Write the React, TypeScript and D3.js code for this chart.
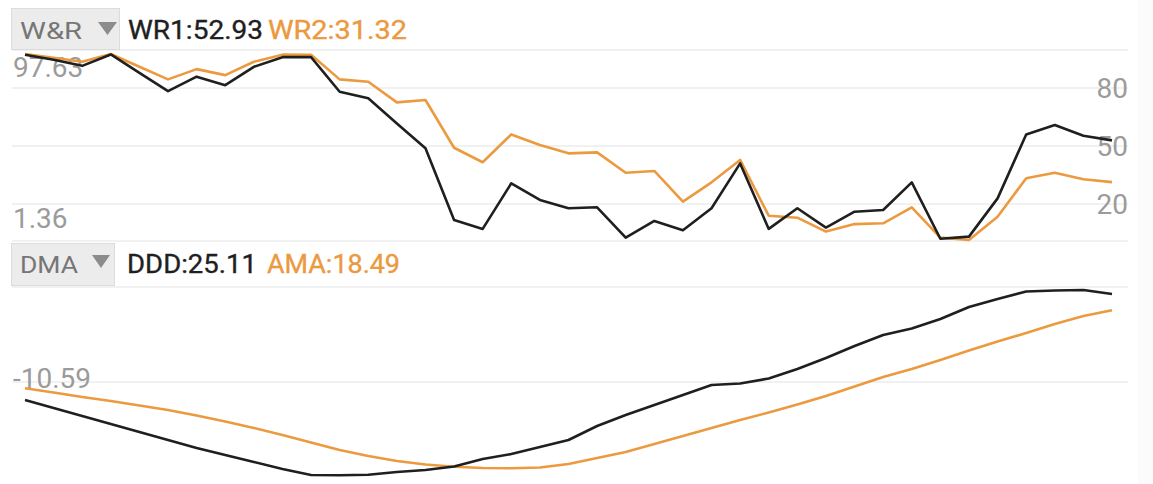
import React from 'react';
import * as d3 from 'd3';

// ---- data ----
const WR1 = [97.2, 94.7, 91.5, 97.4, 87.9, 78.4, 85.9, 81.5, 91.0, 96.0, 96.0, 78.1, 74.7, 61.7, 48.8, 11.7, 7.1, 30.7, 22.1, 17.8, 18.3, 2.6, 11.2, 6.4, 17.8, 41.0, 7.1, 17.8, 7.8, 16.0, 16.9, 31.2, 2.0, 3.1, 22.9, 56.0, 60.9, 55.3, 52.93];
const WR2 = [97.6, 95.7, 93.6, 97.63, 91.0, 84.5, 89.8, 86.7, 93.6, 97.3, 97.2, 84.5, 83.3, 72.6, 73.8, 49.1, 41.6, 56.0, 50.5, 46.2, 46.7, 36.2, 37.1, 21.2, 31.2, 42.8, 13.9, 12.9, 5.7, 9.6, 10.0, 18.3, 2.6, 1.36, 13.4, 33.3, 36.2, 32.8, 31.32];
const DDD = [-17.89, -21.14, -24.38, -27.63, -30.87, -34.12, -37.36, -40.2, -43.04, -45.88, -48.32, -48.4, -48.2, -47.1, -46.29, -44.87, -41.83, -39.8, -36.96, -34.12, -28.44, -23.98, -19.92, -15.86, -11.81, -11.2, -9.17, -5.32, -0.85, 4.01, 8.48, 11.11, 14.97, 19.84, 23.08, 26.12, 26.53, 26.73, 25.11];
const AMA = [-13.15, -14.85, -16.68, -18.3, -20.12, -21.95, -24.18, -26.61, -29.25, -32.09, -35.13, -38.18, -40.61, -42.64, -44.06, -44.95, -45.48, -45.6, -45.28, -43.86, -41.42, -38.99, -35.74, -32.5, -29.25, -26.01, -22.96, -19.72, -16.27, -12.42, -8.56, -5.32, -1.67, 2.19, 5.84, 9.29, 12.94, 16.18, 18.49];
const WR_TICKS = [80, 50, 20];
const WR_MAX_LABEL = '97.63';
const WR_MIN_LABEL = '1.36';
const DMA_LABEL_VALUE = -10.59;

const BLACK = '#1f1f1f';
const ORANGE = '#eb9a3f';
const GRAY = '#9b9b9b';
const GRID = '#f1f1f1';
const FONT = "Roboto, 'Noto Sans', sans-serif";

export default function App() {
  const n = WR1.length;
  const x = d3.scaleLinear().domain([0, n - 1]).range([25, 1112]);
  const wrMin = d3.min([...WR1, ...WR2]) as number;
  const wrMax = d3.max([...WR1, ...WR2]) as number;
  const yTop = d3.scaleLinear().domain([wrMin, wrMax]).range([240, 54]);
  const yBot = d3.scaleLinear().domain([DMA_LABEL_VALUE, DDD[n - 1]]).range([382, 294]);

  const lineTop = d3.line<number>().x((_, i) => x(i)).y((d) => yTop(d));
  const lineBot = d3.line<number>().x((_, i) => x(i)).y((d) => yBot(d));

  const fmt = (v: number) => v.toFixed(2);

  return (
    <svg
      width={1153}
      height={484}
      style={{ position: 'absolute', left: 0, top: 0, display: 'block', background: '#fff' }}
      fontFamily={FONT}
    >
      {/* right edge shade */}
      <rect x={1138} y={0} width={15} height={484} fill="#fbfbfb" />
      {/* top panel grid */}
      {[50, 241].map((y) => (
        <line key={'b' + y} x1={12} x2={1128} y1={y} y2={y} stroke={GRID} strokeWidth={2} />
      ))}
      {WR_TICKS.map((t) => (
        <line key={'t' + t} x1={12} x2={1128} y1={yTop(t)} y2={yTop(t)} stroke={GRID} strokeWidth={2} />
      ))}
      {/* bottom panel grid */}
      <line x1={12} x2={1128} y1={287} y2={287} stroke={GRID} strokeWidth={2} />
      <line x1={12} x2={1128} y1={yBot(DMA_LABEL_VALUE)} y2={yBot(DMA_LABEL_VALUE)} stroke={GRID} strokeWidth={2} />

      {/* axis labels */}
      <text x={13} y={77} fontSize={28} fill={GRAY}>{WR_MAX_LABEL}</text>
      <text x={13} y={228} fontSize={28} fill={GRAY}>{WR_MIN_LABEL}</text>
      {WR_TICKS.map((t) => (
        <text key={'l' + t} x={1128} y={yTop(t) + 10} fontSize={28} fill={GRAY} textAnchor="end">{t}</text>
      ))}
      <text x={13} y={388} fontSize={28} fill={GRAY}>{fmt(DMA_LABEL_VALUE)}</text>

      {/* W&R header */}
      <rect x={11.5} y={8.5} width={108} height={41} fill="#ececec" stroke="#dcdcdc" />
      <text x={20} y={39} fontSize={23} fill="#767676" textLength={62} lengthAdjust="spacingAndGlyphs">W&amp;R</text>
      <path d="M98,22 L117,22 L107.5,35 Z" fill="#8c8c8c" />
      <text x={128} y={39} fontSize={25} fill={BLACK} textLength={135} lengthAdjust="spacingAndGlyphs" stroke={BLACK} strokeWidth={0.35}>{'WR1:' + fmt(WR1[n - 1])}</text>
      <text x={268} y={39} fontSize={25} fill={ORANGE} textLength={139} lengthAdjust="spacingAndGlyphs" stroke={ORANGE} strokeWidth={0.35}>{'WR2:' + fmt(WR2[n - 1])}</text>

      {/* DMA header */}
      <rect x={11.5} y={243.5} width={103} height={42} fill="#ececec" stroke="#dcdcdc" />
      <text x={20} y={273} fontSize={23} fill="#767676" textLength={58} lengthAdjust="spacingAndGlyphs">DMA</text>
      <path d="M92,255 L110,255 L101,268 Z" fill="#8c8c8c" />
      <text x={127} y={273} fontSize={25} fill={BLACK} textLength={130} lengthAdjust="spacingAndGlyphs" stroke={BLACK} strokeWidth={0.35}>{'DDD:' + fmt(DDD[n - 1])}</text>
      <text x={267} y={273} fontSize={25} fill={ORANGE} textLength={133} lengthAdjust="spacingAndGlyphs" stroke={ORANGE} strokeWidth={0.35}>{'AMA:' + fmt(AMA[n - 1])}</text>

      {/* series */}
      <path d={lineTop(WR2) ?? ''} fill="none" stroke={ORANGE} strokeWidth={2.6} strokeLinejoin="round" />
      <path d={lineTop(WR1) ?? ''} fill="none" stroke={BLACK} strokeWidth={2.6} strokeLinejoin="round" />
      <path d={lineBot(AMA) ?? ''} fill="none" stroke={ORANGE} strokeWidth={2.6} strokeLinejoin="round" />
      <path d={lineBot(DDD) ?? ''} fill="none" stroke={BLACK} strokeWidth={2.6} strokeLinejoin="round" />
    </svg>
  );
}
